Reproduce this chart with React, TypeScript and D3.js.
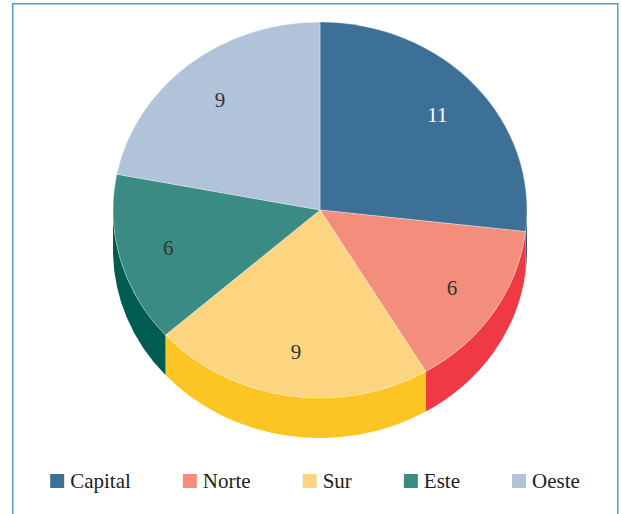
import React, { useEffect, useRef } from 'react';
import * as d3 from 'd3';

const categories = ['Capital', 'Norte', 'Sur', 'Este', 'Oeste'];
const values = [11, 6, 9, 6, 9];
const topColors = ['#3d7097', '#f48e7c', '#fdd581', '#3b8b85', '#b0c3d8'];
const sideColors = ['#2d5a7e', '#ef3a45', '#fdc524', '#005b50', '#8fa5bd'];
const labelColors = ['#ffffff', '#333333', '#333333', '#333333', '#333333'];

export default function App() {
  const ref = useRef<SVGSVGElement>(null);
  useEffect(() => {
    const svg = d3.select(ref.current);
    svg.selectAll('*').remove();
    const H = 514;
    const cx = 320, cy = 210, rx = 207, ry = 188, depth = 40;
    const font = '"Liberation Serif", "Times New Roman", serif';

    svg.append('path')
      .attr('d', `M12.75,${H + 5}V3.75H617.75V${H + 5}`)
      .attr('fill', 'none').attr('stroke', '#4aa0d2').attr('stroke-width', 1.5);

    const pie = d3.pie<number>().sort(null).value(d => d);
    const arcs = pie(values);
    const px = (a: number) => cx + rx * Math.sin(a);
    const py = (a: number) => cy - ry * Math.cos(a);

    // side walls
    arcs.forEach((a, i) => {
      const s = Math.max(a.startAngle, Math.PI / 2);
      const e = Math.min(a.endAngle, 1.5 * Math.PI);
      if (e <= s) return;
      const large = e - s > Math.PI ? 1 : 0;
      const d = `M${px(s)},${py(s)}A${rx},${ry} 0 ${large} 1 ${px(e)},${py(e)}` +
        `L${px(e)},${py(e) + depth}A${rx},${ry} 0 ${large} 0 ${px(s)},${py(s) + depth}Z`;
      svg.append('path').attr('d', d).attr('fill', sideColors[i]);
    });

    // tops
    const R = 100;
    const arcGen = d3.arc<d3.PieArcDatum<number>>().innerRadius(0).outerRadius(R);
    const g = svg.append('g').attr('transform', `translate(${cx},${cy}) scale(${rx / R},${ry / R})`);
    g.selectAll('path').data(arcs).join('path')
      .attr('d', d => arcGen(d) as string)
      .attr('fill', (_, i) => topColors[i])
      .attr('stroke', '#ffffff').attr('stroke-opacity', 0.45)
      .attr('stroke-width', 0.7).attr('vector-effect', 'non-scaling-stroke');

    // labels
    const k = 0.76;
    arcs.forEach((a, i) => {
      const m = (a.startAngle + a.endAngle) / 2;
      svg.append('text')
        .attr('x', cx + k * rx * Math.sin(m))
        .attr('y', cy - k * ry * Math.cos(m))
        .attr('dy', '0.35em')
        .attr('text-anchor', 'middle')
        .attr('font-family', font).attr('font-size', 21)
        .attr('fill', labelColors[i])
        .text(String(values[i]));
    });

    // legend
    const lg = svg.append('g');
    const sq = 14, txtOff = 20, gap = 52, baseY = 488;
    const items = categories.map((c, i) => {
      const gi = lg.append('g');
      gi.append('rect').attr('x', 0).attr('y', baseY - sq).attr('width', sq).attr('height', sq).attr('fill', topColors[i]);
      const t = gi.append('text').attr('x', txtOff).attr('y', baseY)
        .attr('font-family', font).attr('font-size', 21).attr('fill', '#222').text(c);
      const w = (t.node() as SVGTextElement).getComputedTextLength();
      return { gi, w: txtOff + w };
    });
    const total = d3.sum(items, d => d.w) + gap * (items.length - 1);
    let x = 315 - total / 2;
    items.forEach(it => {
      it.gi.attr('transform', `translate(${x},0)`);
      x += it.w + gap;
    });
  }, []);
  return (
    <svg ref={ref} width={621} height={514}
      style={{ position: 'absolute', left: 0, top: 0, display: 'block', background: '#fff' }} />
  );
}
